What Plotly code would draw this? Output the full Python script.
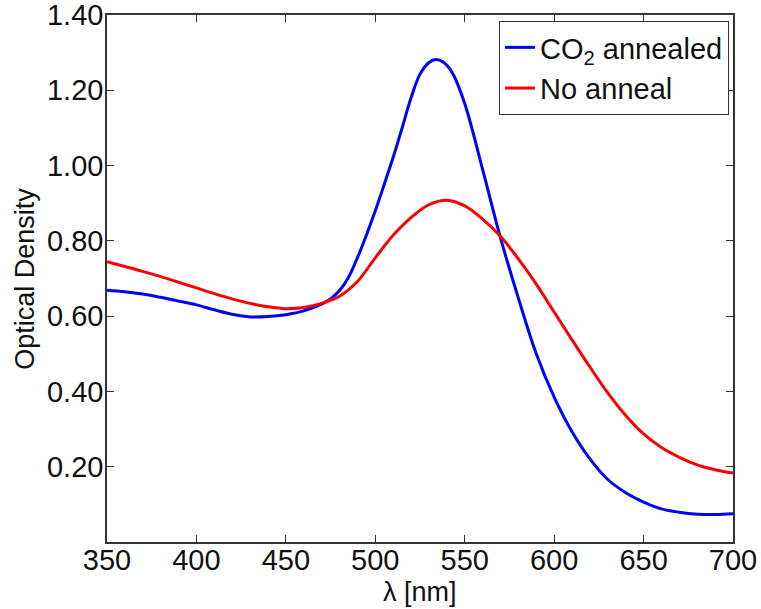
import plotly.graph_objects as go

wavelength = [350, 360, 370, 380, 390, 400, 410, 420, 430, 440, 450, 460, 470, 475, 480, 485,
              490, 495, 500, 505, 510, 515, 520, 525, 530, 534, 538, 543, 550, 560, 570, 580,
              590, 600, 610, 620, 630, 640, 650, 660, 670, 680, 690, 700]

co2_annealed = [0.669, 0.665, 0.659, 0.650, 0.640, 0.630, 0.617, 0.605, 0.598, 0.599, 0.604,
                0.614, 0.632, 0.646, 0.668, 0.703, 0.755, 0.815, 0.880, 0.950, 1.022, 1.100,
                1.180, 1.243, 1.274, 1.282, 1.275, 1.247, 1.165, 0.990, 0.808, 0.648, 0.500,
                0.385, 0.293, 0.221, 0.166, 0.131, 0.106, 0.088, 0.079, 0.074, 0.073, 0.075]

wl_red = [350, 360, 370, 380, 390, 400, 410, 420, 430, 440, 450, 460, 470, 480, 490,
          500, 510, 520, 530, 540, 550, 560, 570, 580, 590, 600, 610, 620, 630, 640,
          650, 660, 670, 680, 690, 700]

no_anneal = [0.745, 0.732, 0.719, 0.705, 0.690, 0.675, 0.660, 0.646, 0.634, 0.625, 0.620,
             0.623, 0.634, 0.653, 0.692, 0.755, 0.815, 0.862, 0.896, 0.908, 0.893, 0.858,
             0.812, 0.752, 0.685, 0.611, 0.537, 0.465, 0.396, 0.336, 0.287, 0.251, 0.225,
             0.205, 0.192, 0.183]

x_ticks = [350, 400, 450, 500, 550, 600, 650, 700]
y_ticks = [0.2, 0.4, 0.6, 0.8, 1.0, 1.2, 1.4]
y_tick_text = ["0.20", "0.40", "0.60", "0.80", "1.00", "1.20", "1.40"]

FONT = "Liberation Sans, Arial"

fig = go.Figure()
fig.add_trace(go.Scatter(x=wavelength, y=co2_annealed, mode="lines",
                         line=dict(color="#0000FF", width=3, shape="spline", smoothing=1.0),
                         name="CO<sub>2</sub> annealed"))
fig.add_trace(go.Scatter(x=wl_red, y=no_anneal, mode="lines",
                         line=dict(color="#FF0000", width=3, shape="spline", smoothing=1.0),
                         name="No anneal"))

axis_common = dict(showline=True, linecolor="#333333", linewidth=1.5, mirror="ticks",
                   ticks="inside", ticklen=7, tickwidth=1.2, tickcolor="#333333",
                   showgrid=False, zeroline=False, automargin=False,
                   ticklabeloverflow="allow",
                   tickfont=dict(family=FONT, size=29, color="#111111"))

fig.update_layout(
    width=761, height=609,
    margin=dict(l=107, r=28, t=15, b=67),
    paper_bgcolor="white", plot_bgcolor="white",
    font=dict(family=FONT, size=29, color="#111111"),
    xaxis=dict(range=[350, 700], tickvals=x_ticks, **axis_common),
    yaxis=dict(range=[0, 1.4001], tickvals=y_ticks, ticktext=y_tick_text, **axis_common),
    legend=dict(x=0.9936, y=0.9886, xanchor="right", yanchor="top",
                bordercolor="#333333", borderwidth=1, bgcolor="white",
                font=dict(size=29), tracegroupgap=0, itemwidth=30),
    showlegend=True,
    annotations=[
        dict(text="λ [nm]", xref="paper", yref="paper", x=0.5, y=-0.095,
             xanchor="center", yanchor="middle", showarrow=False,
             font=dict(family=FONT, size=27, color="#111111")),
        dict(text="Optical Density", xref="paper", yref="paper", x=-0.132, y=0.5,
             xanchor="center", yanchor="middle", showarrow=False, textangle=-90,
             font=dict(family=FONT, size=27, color="#111111")),
    ],
)

try:
    fig.update_xaxes(ticklabelstandoff=-9)
    fig.update_yaxes(ticklabelstandoff=-4)
except Exception:
    pass

fig.write_html("out.html")
